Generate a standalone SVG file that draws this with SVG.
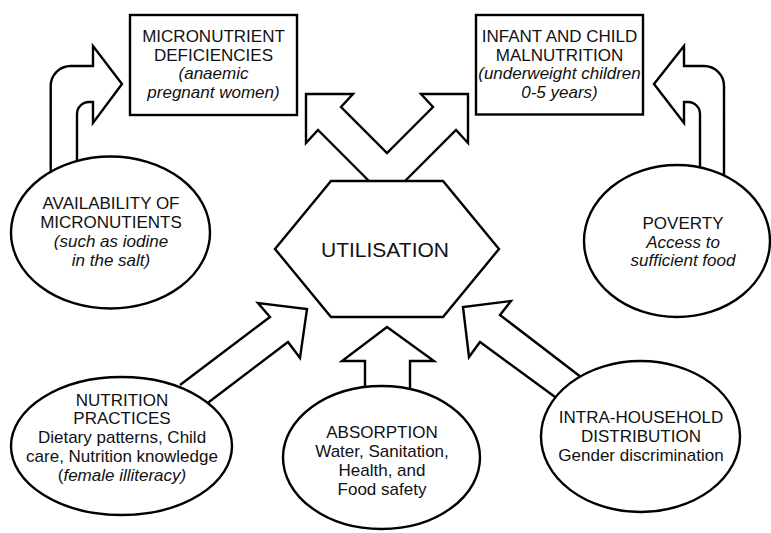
<svg xmlns="http://www.w3.org/2000/svg" width="771" height="533" viewBox="0 0 771 533">
  <style>
    .shape { fill: #ffffff; stroke: #000000; stroke-width: 2.4; stroke-linejoin: miter; }
    .arrow { fill: #ffffff; stroke: #000000; stroke-width: 2.4; stroke-linejoin: miter; }
    text { font-family: "Liberation Sans", Arial, sans-serif; font-size: 17px; fill: #111111; text-anchor: middle; }
    .it { font-style: italic; }
    .big { font-size: 21px; }
  </style>
  <rect width="771" height="533" fill="#ffffff"/>

  <!-- block arrows (drawn first so the nodes cover their tails) -->
  <g id="connectors">
    <!-- availability -> micronutrient deficiencies -->
    <path class="arrow" d="M50.7,185 L50.7,86 A20,20 0 0 1 70.7,66 L93,66 L93,46 L122,84 L93,123 L93,102 L89,102 A12,12 0 0 0 77,114 L77,175"/>
    <!-- poverty -> infant and child malnutrition -->
    <path class="arrow" d="M724,190 L724,86 A20,20 0 0 0 704,66 L684,66 L684,46 L654,84 L684,123 L684,102 L688,102 A12,12 0 0 1 700,114 L700,180"/>
    <!-- utilisation -> both outcome boxes -->
    <path class="arrow" d="M369,181 L318,130 L306,143 L306,94 L353,94 L341,107 L387,153 L433,107 L421,94 L468,94 L468,143 L456,130 L405,181"/>
    <!-- nutrition practices -> utilisation -->
    <path class="arrow" d="M180,385 L270,317 L258,303 L307,309 L300,358 L288,342 L205,405"/>
    <!-- absorption -> utilisation -->
    <path class="arrow" d="M365,400 L365,361 L342,361 L387,327 L434,361 L410,361 L410,400"/>
    <!-- intra-household distribution -> utilisation -->
    <path class="arrow" d="M590,384 L500,315 L511,301 L463,307 L469,357 L480,342 L566,405"/>
  </g>

  <g id="micronutrient-deficiencies">
    <rect class="shape" x="130" y="15" width="167" height="100"/>
    <text x="213.5" y="41.5">MICRONUTRIENT</text>
    <text x="213.5" y="60.5">DEFICIENCIES</text>
    <text class="it" x="213.5" y="79">(anaemic</text>
    <text class="it" x="213.5" y="97.5">pregnant women)</text>
  </g>

  <g id="infant-child-malnutrition">
    <rect class="shape" x="476" y="15" width="167" height="99.5"/>
    <text x="559.5" y="41.5">INFANT AND CHILD</text>
    <text x="559.5" y="60.5">MALNUTRITION</text>
    <text class="it" x="559.5" y="79">(underweight children</text>
    <text class="it" x="559.5" y="97.5">0-5 years)</text>
  </g>

  <g id="utilisation">
    <polygon class="shape" points="275,249 331,181 443,181 499,249 443,317 331,317"/>
    <text class="big" x="385" y="256.5">UTILISATION</text>
  </g>

  <g id="availability-of-micronutrients">
    <ellipse class="shape" cx="110.5" cy="232.5" rx="99.5" ry="76"/>
    <text x="111" y="209">AVAILABILITY OF</text>
    <text x="111" y="228">MICRONUTIENTS</text>
    <text class="it" x="111" y="247">(such as iodine</text>
    <text class="it" x="111" y="266">in the salt)</text>
  </g>

  <g id="poverty">
    <ellipse class="shape" cx="677" cy="241" rx="93" ry="76"/>
    <text x="683" y="229">POVERTY</text>
    <text class="it" x="683" y="247.5">Access to</text>
    <text class="it" x="683" y="266">sufficient food</text>
  </g>

  <g id="nutrition-practices">
    <ellipse class="shape" cx="121.5" cy="446" rx="110.5" ry="69"/>
    <text x="122" y="405.5">NUTRITION</text>
    <text x="122" y="424">PRACTICES</text>
    <text x="122" y="443">Dietary patterns, Child</text>
    <text x="122" y="462">care, Nutrition knowledge</text>
    <text x="122" y="481">(<tspan class="it">female illiteracy)</tspan></text>
  </g>

  <g id="absorption">
    <ellipse class="shape" cx="381.5" cy="457.5" rx="98.5" ry="71.5"/>
    <text x="382" y="438">ABSORPTION</text>
    <text x="382" y="457">Water, Sanitation,</text>
    <text x="382" y="476">Health, and</text>
    <text x="382" y="494.5">Food safety</text>
  </g>

  <g id="intra-household-distribution">
    <ellipse class="shape" cx="640.5" cy="436.5" rx="99.5" ry="75.5"/>
    <text x="641" y="423">INTRA-HOUSEHOLD</text>
    <text x="641" y="442">DISTRIBUTION</text>
    <text x="641" y="460.5">Gender discrimination</text>
  </g>
</svg>
